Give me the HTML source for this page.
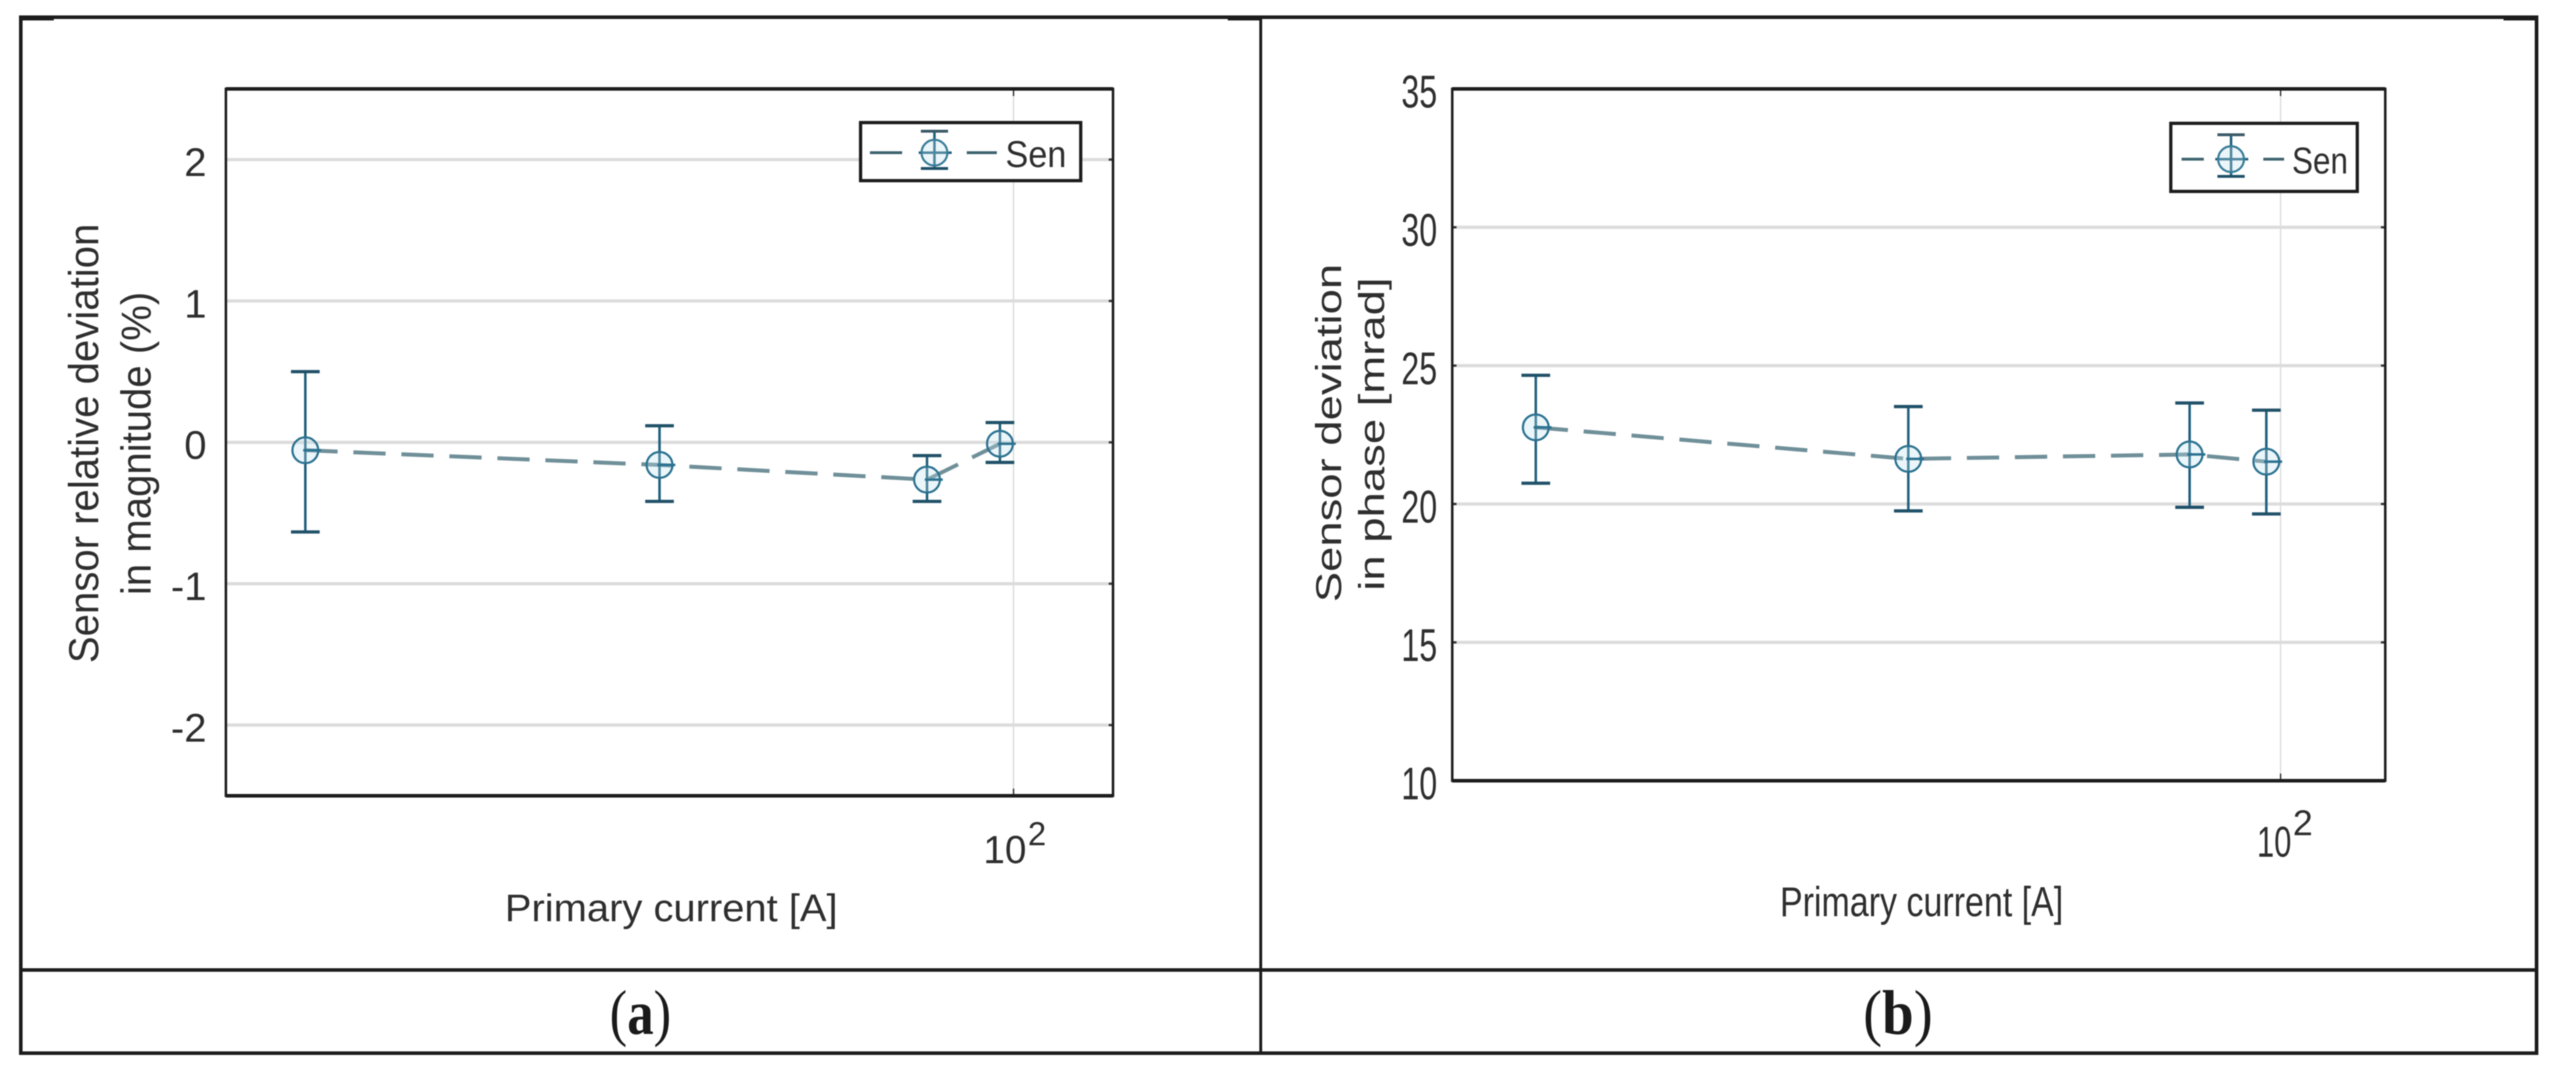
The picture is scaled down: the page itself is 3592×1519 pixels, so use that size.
<!DOCTYPE html>
<html lang="en">
<head>
<meta charset="utf-8">
<title>Sensor deviation in magnitude and phase</title>
<style>
html,body{margin:0;padding:0;background:#fff;width:3592px;height:1519px;overflow:hidden}
svg{display:block;filter:blur(0.8px)}
text{font-family:"Liberation Sans",sans-serif;fill:#2e2e2e}
.serif{font-family:"Liberation Serif",serif;fill:#1a1a1a}
</style>
</head>
<body>
<svg id="figure" xmlns="http://www.w3.org/2000/svg" width="3592" height="1519" viewBox="0 0 3592 1519">
  <rect x="0" y="0" width="3592" height="1519" fill="#fff"/>
  <g id="plot-a"></g>
  <g id="plot-b"></g>

  <g fill="none" stroke="#1c1c1c" stroke-width="5">
    <rect x="29" y="24" width="3508" height="1445"/>
    <line x1="1758" y1="24" x2="1758" y2="1469" stroke-width="4"/>
    <line x1="29" y1="1353" x2="3537" y2="1353"/>
    <line x1="27" y1="25" x2="75" y2="25" stroke-width="7"/>
    <line x1="1712" y1="25" x2="1760" y2="25" stroke-width="7"/>
    <line x1="3491" y1="25" x2="3539" y2="25" stroke-width="7"/>
  </g>

  <text transform="translate(137,925) rotate(-90)" font-size="58" textLength="613" lengthAdjust="spacingAndGlyphs" fill="#444">Sensor relative deviation</text>
  <text transform="translate(210,830) rotate(-90)" font-size="58" textLength="423" lengthAdjust="spacingAndGlyphs" fill="#444">in magnitude (%)</text>
  <text x="704" y="1285" font-size="54" textLength="464" lengthAdjust="spacingAndGlyphs">Primary current [A]</text>

  <text transform="translate(1870,840) rotate(-90)" font-size="50" textLength="472" lengthAdjust="spacingAndGlyphs" fill="#444">Sensor deviation</text>
  <text transform="translate(1930,824) rotate(-90)" font-size="50" textLength="437" lengthAdjust="spacingAndGlyphs" fill="#444">in phase [mrad]</text>
  <text x="2482" y="1278" font-size="58" textLength="395" lengthAdjust="spacingAndGlyphs">Primary current [A]</text>

  <text class="serif" x="850" y="1442" font-size="88" textLength="86" lengthAdjust="spacingAndGlyphs">(<tspan font-weight="bold" class="serif">a</tspan>)</text>
  <text class="serif" x="2598" y="1442" font-size="88" textLength="97" lengthAdjust="spacingAndGlyphs">(<tspan font-weight="bold" class="serif">b</tspan>)</text>
</svg>

<script>
// Shared x data: primary current in amperes
var currents = [24, 49, 84, 97.3];
var xTickValues = [100];

// Chart (a): relative deviation in magnitude, %
var magnitudeMean = [-0.056, -0.16, -0.264, -0.01];
var magnitudeHigh = [0.50, 0.117, -0.094, 0.14];
var magnitudeLow = [-0.634, -0.418, -0.418, -0.142];
var magnitudeTicks = [-2, -1, 0, 1, 2];
var magnitudeTickLabels = ['-2', '-1', '0', '1', '2'];

// Chart (b): deviation in phase, mrad
var phaseMean = [22.77, 21.63, 21.79, 21.53];
var phaseHigh = [24.65, 23.52, 23.65, 23.39];
var phaseLow = [20.75, 19.75, 19.88, 19.64];
var phaseTicks = [10, 15, 20, 25, 30, 35];
var phaseTickLabels = ['10', '15', '20', '25', '30', '35'];

var SVG_NS = 'http://www.w3.org/2000/svg';

function make(parent, tag, attrs, content) {
  var el = document.createElementNS(SVG_NS, tag);
  for (var k in attrs) {
    el.setAttribute(k, attrs[k]);
  }
  if (content !== undefined) {
    el.textContent = content;
  }
  parent.appendChild(el);
  return el;
}

function logScale(d0, d1, r0, r1) {
  return function (v) {
    return r0 + (Math.log10(v) - Math.log10(d0)) / (Math.log10(d1) - Math.log10(d0)) * (r1 - r0);
  };
}

function linScale(d0, d1, r0, r1) {
  return function (v) {
    return r0 + (v - d0) / (d1 - d0) * (r1 - r0);
  };
}

function drawChart(cfg) {
  var root = document.getElementById(cfg.id);
  var x = logScale(20.45, 122.2, cfg.left, cfg.right);
  var y = linScale(cfg.yMin, cfg.yMax, cfg.bottom, cfg.top);
  var i, el;

  // horizontal grid
  for (i = 0; i < cfg.yTicks.length; i++) {
    var yv = cfg.yTicks[i];
    if (yv > cfg.yMin && yv < cfg.yMax) {
      el = make(root, 'line', {x1: cfg.left, x2: cfg.right, y1: y(yv), y2: y(yv), stroke: '#dcdcdc', 'stroke-width': 4.5});
      
      
      if (cfg.leftTicks) {
        el = make(root, 'line', {x1: cfg.left, x2: cfg.left + 6, y1: y(yv), y2: y(yv), stroke: '#333', 'stroke-width': 3});
        
        
      }
      el = make(root, 'line', {x1: cfg.right - 6, x2: cfg.right, y1: y(yv), y2: y(yv), stroke: '#333', 'stroke-width': 3});
      
      
    }
    el = make(root, 'text', {x: cfg.yLabelX, y: y(yv) + cfg.yLabelDy, 'font-size': cfg.yFont, 'text-anchor': 'end'}, cfg.yLabels[i]);
    if (cfg.yLabelLen) {
      el.setAttribute('textLength', cfg.yLabelLen);
      el.setAttribute('lengthAdjust', 'spacingAndGlyphs');
    }
    
    
  }

  // vertical grid and x tick labels
  for (i = 0; i < xTickValues.length; i++) {
    var xv = x(xTickValues[i]);
    el = make(root, 'line', {x1: xv, x2: xv, y1: cfg.top, y2: cfg.bottom, stroke: '#dcdcdc', 'stroke-width': 2});
    
    
    el = make(root, 'line', {x1: xv, x2: xv, y1: cfg.bottom - 10, y2: cfg.bottom, stroke: '#333', 'stroke-width': 2});
    
    
    el = make(root, 'line', {x1: xv, x2: xv, y1: cfg.top, y2: cfg.top + 10, stroke: '#333', 'stroke-width': 2});
    
    
    el = make(root, 'text', {x: xv + cfg.expBaseDx, y: cfg.expBaseY, 'font-size': cfg.expBaseFont, textLength: cfg.expBaseLen, lengthAdjust: 'spacingAndGlyphs'}, '10');
    
    
    el = make(root, 'text', {x: xv + cfg.expDx, y: cfg.expY, 'font-size': cfg.expFont}, '2');
    
    
  }

  // dashed series line
  var pts = [];
  for (i = 0; i < currents.length; i++) {
    pts.push(x(currents[i]) + ',' + y(cfg.mean[i]));
  }
  el = make(root, 'polyline', {points: pts.join(' '), fill: 'none', stroke: '#6f8f99', 'stroke-width': 5.5, 'stroke-dasharray': '45 22'});
  
  

  // error bars and markers
  for (i = 0; i < currents.length; i++) {
    var px = x(currents[i]);
    var py = y(cfg.mean[i]);
    var hi = y(cfg.high[i]);
    var lo = y(cfg.low[i]);
    el = make(root, 'line', {x1: px, x2: px, y1: hi, y2: lo, stroke: '#1f5f7c', 'stroke-width': 3.5});
    
    
    el = make(root, 'line', {x1: px - 20, x2: px + 20, y1: hi, y2: hi, stroke: '#1f5068', 'stroke-width': 4.5});
    
    
    el = make(root, 'line', {x1: px - 20, x2: px + 20, y1: lo, y2: lo, stroke: '#1f5068', 'stroke-width': 4.5});
    
    
    el = make(root, 'circle', {cx: px, cy: py, r: 18, fill: 'rgba(190,225,240,0.3)', stroke: '#2a7190', 'stroke-width': 3});
    
    
    el = make(root, 'line', {x1: px - 3, x2: px + 22, y1: py, y2: py, stroke: '#2a7190', 'stroke-width': 3.5});
    
    
  }

  // axes box
  el = make(root, 'rect', {x: cfg.left, y: cfg.top, width: cfg.right - cfg.left, height: cfg.bottom - cfg.top, fill: 'none', stroke: '#1c1c1c', 'stroke-width': 3.5});
  
  
  el = make(root, 'line', {x1: cfg.left, x2: cfg.right, y1: cfg.top, y2: cfg.top, stroke: '#1c1c1c', 'stroke-width': 5});
  
  
  el = make(root, 'line', {x1: cfg.left, x2: cfg.right, y1: cfg.bottom, y2: cfg.bottom, stroke: '#1c1c1c', 'stroke-width': 5});
  
  

  // legend
  var L = cfg.legend;
  var g = make(root, 'g', {});
  
  
  el = make(g, 'rect', {x: L.x, y: L.y, width: L.w, height: L.h, fill: '#fff', stroke: '#1c1c1c', 'stroke-width': 4.5});
  
  
  el = make(g, 'line', {x1: L.d1[0], x2: L.d1[1], y1: L.my, y2: L.my, stroke: '#3f6470', 'stroke-width': 4});
  
  
  el = make(g, 'line', {x1: L.d2[0], x2: L.d2[1], y1: L.my, y2: L.my, stroke: '#3f6470', 'stroke-width': 4});
  
  
  el = make(g, 'line', {x1: L.mx, x2: L.mx, y1: L.capTop, y2: L.capBot, stroke: '#1f5f7c', 'stroke-width': 3.5});
  
  
  el = make(g, 'line', {x1: L.mx - 19, x2: L.mx + 19, y1: L.capTop, y2: L.capTop, stroke: '#3a5a68', 'stroke-width': 4});
  
  
  el = make(g, 'line', {x1: L.mx - 19, x2: L.mx + 19, y1: L.capBot, y2: L.capBot, stroke: '#1f5068', 'stroke-width': 4});
  
  
  el = make(g, 'line', {x1: L.mx - 22, x2: L.mx + 24, y1: L.my, y2: L.my, stroke: '#1f5f7c', 'stroke-width': 3.5});
  
  
  el = make(g, 'circle', {cx: L.mx, cy: L.my, r: 18, fill: 'rgba(190,225,240,0.3)', stroke: '#3a7d98', 'stroke-width': 3});
  
  
  el = make(g, 'text', {x: L.tx, y: L.ty, 'font-size': 52, textLength: L.tl, lengthAdjust: 'spacingAndGlyphs'}, 'Sen');
  
  
}

drawChart({
  id: 'plot-a', left: 315, right: 1552, top: 124, bottom: 1110,
  leftTicks: false,
  yMin: -2.5, yMax: 2.5,
  yTicks: magnitudeTicks, yLabels: magnitudeTickLabels,
  yLabelX: 288, yLabelDy: 23, yFont: 56,
  expBaseDx: -42, expBaseY: 1204, expBaseFont: 55, expBaseLen: 60,
  expDx: 20, expY: 1179, expFont: 46,
  mean: magnitudeMean, high: magnitudeHigh, low: magnitudeLow,
  legend: {x: 1200, y: 171, w: 307, h: 81, mx: 1303, my: 213, capTop: 183, capBot: 235, d1: [1213, 1258], d2: [1348, 1390], tx: 1402, ty: 233, tl: 85}
});

drawChart({
  id: 'plot-b', left: 2025, right: 3326, top: 124, bottom: 1089,
  leftTicks: true,
  yMin: 10, yMax: 35,
  yTicks: phaseTicks, yLabels: phaseTickLabels,
  yLabelX: 2004, yLabelDy: 26, yFont: 64, yLabelLen: 50,
  expBaseDx: -33, expBaseY: 1195, expBaseFont: 60, expBaseLen: 48,
  expDx: 17, expY: 1165, expFont: 50,
  mean: phaseMean, high: phaseHigh, low: phaseLow,
  legend: {x: 3027, y: 172, w: 260, h: 95, mx: 3111, my: 222, capTop: 188, capBot: 246, d1: [3042, 3073], d2: [3156, 3185], tx: 3196, ty: 242, tl: 78}
});
</script>
</body>
</html>
